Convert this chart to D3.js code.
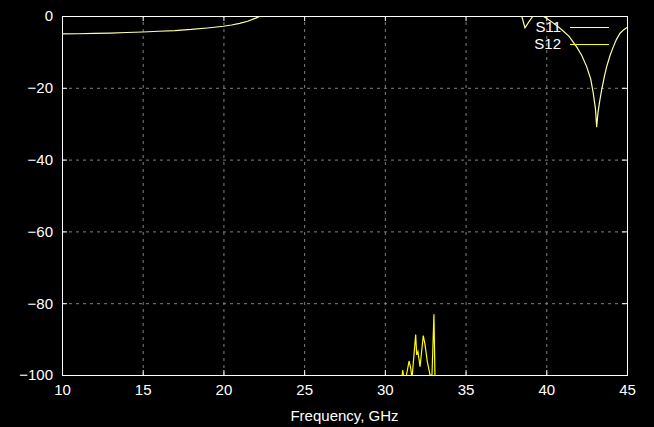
<!DOCTYPE html>
<html><head><meta charset="utf-8">
<script src="https://cdn.jsdelivr.net/npm/d3@7"></script>
<style>
html,body{margin:0;padding:0;background:#000;}
svg{display:block;}
text{font-family:"Liberation Sans",Arial,sans-serif;fill:#fff;}
</style></head>
<body>
<svg id="c" width="654" height="427"></svg>
<script>
const xTicks = [10,15,20,25,30,35,40,45];
const yTicks = [0,-20,-40,-60,-80,-100];
const xLabel = "Frequency, GHz";
const seriesNames = ["S11","S12"];

// S11 (dB) vs frequency (GHz); values above 0 are off the top of the plot
const s11Freq = [10,11,12,13,14,15,16,17,18,19,20,20.5,21,21.5,22,22.3,22.6,25,30,35,38,38.48,38.68,38.9,39.18,39.5,39.8,40.3,40.85,41.4,41.88,42.2,42.5,42.75,42.91,43.05,43.12,43.2,43.3,43.43,43.6,43.74,43.95,44.15,44.35,44.57,44.8,45];
const s11Val  = [-5.0,-4.95,-4.85,-4.75,-4.6,-4.45,-4.25,-4.05,-3.75,-3.35,-2.85,-2.5,-2.05,-1.45,-0.6,0,1,3,3,3,1,0,-3.3,-1.8,0,1,0,-1.5,-3.4,-5.6,-8.6,-11,-14.1,-17.5,-21.5,-26,-31,-27,-24,-20.6,-16.8,-14.1,-11,-8.6,-6.5,-4.8,-3.8,-3.2];

// S12 (dB); values below -100 are off the bottom of the plot
const s12Freq = [30.9,31.05,31.11,31.2,31.3,31.5,31.6,31.68,31.91,31.97,32.05,32.18,32.38,32.49,32.63,32.8,32.92,33.04,33.11,33.25];
const s12Val  = [-104,-101,-98.6,-102,-101,-96.1,-98.1,-101,-88.7,-94.4,-93.5,-97.7,-89.0,-91.6,-96.3,-100,-100,-83.1,-102,-104];

const W = 654, H = 427;
const m = {left:62, right:27, top:16, bottom:52};
const svg = d3.select("#c");
svg.append("rect").attr("width",W).attr("height",H).attr("fill","#000");

const x = d3.scaleLinear().domain([10,45]).range([m.left, W-m.right]);
const y = d3.scaleLinear().domain([-100,0]).range([H-m.bottom, m.top]);

// grid
const grid = svg.append("g");
grid.selectAll("line.gx").data(xTicks.slice(1,-1)).join("line")
  .attr("x1",d=>x(d)+0.5).attr("x2",d=>x(d)+0.5)
  .attr("y1",y(-100)).attr("y2",y(0))
  .attr("stroke","#808080").attr("stroke-width",1).attr("stroke-dasharray","3,4");
grid.selectAll("line.gy").data(yTicks.slice(1,-1)).join("line")
  .attr("y1",d=>y(d)+0.5).attr("y2",d=>y(d)+0.5)
  .attr("x1",x(10)).attr("x2",x(45))
  .attr("stroke","#808080").attr("stroke-width",1).attr("stroke-dasharray","3,4");

// axes (ticks inward, mirrored)
const axB = d3.axisBottom(x).tickValues(xTicks).tickSize(-5).tickPadding(9).tickFormat(d3.format("d"));
const axT = d3.axisTop(x).tickValues(xTicks).tickSize(-5).tickFormat("");
const axL = d3.axisLeft(y).tickValues(yTicks).tickSize(-5).tickPadding(9).tickFormat(d3.format("d"));
const axR = d3.axisRight(y).tickValues(yTicks).tickSize(-5).tickFormat("");
function style(g){
  g.select(".domain").remove();
  g.selectAll("line").attr("stroke","#fff");
  g.selectAll("text").attr("fill","#fff").style("font-size","15px").style("font-family","'Liberation Sans',Arial,sans-serif");
}
svg.append("g").attr("transform",`translate(0,${y(-100)})`).call(axB).call(style);
svg.append("g").attr("transform",`translate(0,${y(0)})`).call(axT).call(style);
svg.append("g").attr("transform",`translate(${x(10)},0)`).call(axL).call(style);
svg.append("g").attr("transform",`translate(${x(45)},0)`).call(axR).call(style);

// clip
svg.append("clipPath").attr("id","clip").append("rect")
  .attr("x",x(10)).attr("y",y(0)).attr("width",x(45)-x(10)).attr("height",y(-100)-y(0));

const line = d3.line().x(d=>x(d[0])).y(d=>y(d[1]));
const s11 = s11Freq.map((f,i)=>[f,s11Val[i]]);
const s12 = s12Freq.map((f,i)=>[f,s12Val[i]]);
const colors = {S11:"#ffffa8", S12:"#ffff00"};

// border
svg.append("rect").attr("x",x(10)+0.5).attr("y",y(0)+0.5)
  .attr("width",x(45)-x(10)).attr("height",y(-100)-y(0))
  .attr("fill","none").attr("stroke","#fff").attr("stroke-width",1);

const plot = svg.append("g").attr("clip-path","url(#clip)");
plot.append("path").datum(s11).attr("d",line).attr("fill","none")
  .attr("stroke",colors.S11).attr("stroke-width",1.2);
plot.append("path").datum(s12).attr("d",line).attr("fill","none")
  .attr("stroke",colors.S12).attr("stroke-width",1.2);

// legend
const leg = svg.append("g");
seriesNames.forEach((n,i)=>{
  const yy = 27 + i*17;
  leg.append("text").attr("x",561).attr("y",yy+5).attr("text-anchor","end")
    .style("font-size","15px").text(n);
  leg.append("line").attr("x1",570).attr("x2",609).attr("y1",yy+0.5).attr("y2",yy+0.5)
    .attr("stroke",colors[n]).attr("stroke-width",1.2);
});

// x label
svg.append("text").attr("x",(x(10)+x(45))/2).attr("y",421).attr("text-anchor","middle")
  .style("font-size","15px").text(xLabel);
</script>
</body></html>
